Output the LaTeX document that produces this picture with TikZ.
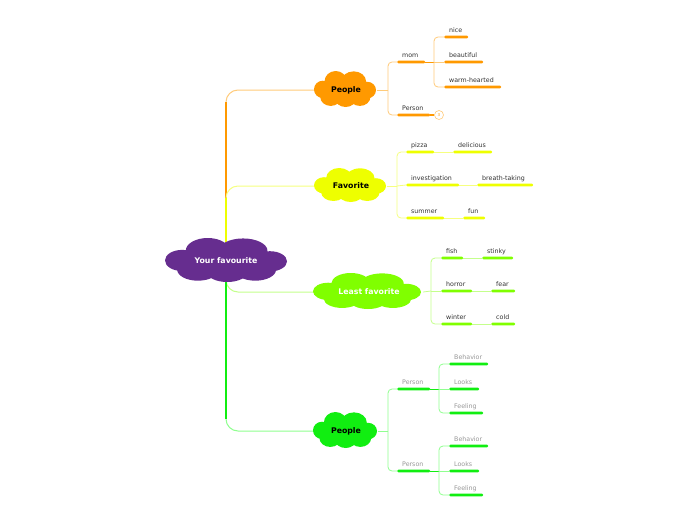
\documentclass[tikz,border=0pt]{standalone}
\usepackage{fontspec}
\setmainfont{DejaVu Sans}
\usetikzlibrary{backgrounds,calc}
\definecolor{cPurple}{HTML}{662D8F}
\definecolor{cOrange}{HTML}{FF9900}
\definecolor{cOrangeL}{HTML}{FFCB7A}
\definecolor{cYellow}{HTML}{EEFF00}
\definecolor{cYellowL}{HTML}{F6FF80}
\definecolor{cLime}{HTML}{80FF00}
\definecolor{cLimeL}{HTML}{C4FF8C}
\definecolor{cGreen}{HTML}{11EE11}
\definecolor{cGreenL}{HTML}{90FF90}
\definecolor{cText}{HTML}{333333}
\definecolor{cGray}{HTML}{999999}
\newcommand\leafnode[7]{%
  \node[leaf=#5, minimum width=#4pt, anchor=west] (#1) at (#2,#3) {};
  \node[lbl, text=#7, anchor=base west] (#1-t) at (#2+5,#3-5) {#6};}
% cloud blob: #1 position, #2 colour, #3 half width, #4 half height
\newcommand\cloudblob[4]{%
  \begin{scope}[shift={#1}, xscale=#3, yscale=#4]
  \fill[#2] (-0.30,-0.42) ellipse (0.36 and 0.58)
            (0.28,-0.42) ellipse (0.40 and 0.56)
            (-0.72,0.02) ellipse (0.28 and 0.48)
            (0.72,0.06) ellipse (0.28 and 0.46)
            (-0.46,0.44) ellipse (0.34 and 0.50)
            (0.02,0.52) ellipse (0.34 and 0.48)
            (0.48,0.44) ellipse (0.34 and 0.50)
            (0,0) ellipse (0.72 and 0.62);
  \end{scope}}
\begin{document}
\begin{tikzpicture}[x=1pt,y=-1pt,
  blob/.style={rectangle, draw=none, inner sep=0pt, font=\fontsize{7.8}{9}\selectfont\bfseries},
  leaf/.style={fill=#1, rounded corners=1.2pt, minimum height=2.6pt, inner sep=0pt},
  lbl/.style={font=\fontsize{6.3}{7}\selectfont, inner sep=0pt},
  thick trunk/.style={line width=2.2pt},
  branch/.style={line width=1pt, rounded corners=12pt},
  sub/.style={line width=0.8pt, rounded corners=4pt}]
\useasboundingbox (0,0) rectangle (696,520);

% cloud shapes
\cloudblob{(226,260)}{cPurple}{61}{22}
\cloudblob{(345,89)}{cOrange}{31}{18}
\cloudblob{(350,185)}{cYellow}{36}{17}
\cloudblob{(367,291)}{cLime}{54}{18}
\cloudblob{(345,430)}{cGreen}{32}{18}

% main topics
\node[blob, text=white, minimum width=122pt, minimum height=44pt] (root) at (226,261) {Your favourite};
\node[blob, text=black, minimum width=62pt, minimum height=36pt] (pO) at (346,90) {People};
\node[blob, text=black, minimum width=72pt, minimum height=34pt] (fav) at (351,186) {Favorite};
\node[blob, text=white, minimum width=108pt, minimum height=36pt] (least) at (369,292) {Least favorite};
\node[blob, text=black, minimum width=64pt, minimum height=36pt] (pG) at (346,431) {People};

% orange subtopics
\leafnode{mom}{397}{62}{28}{cOrange}{mom}{cText}
\leafnode{personO}{397}{115}{33}{cOrange}{Person}{cText}
\leafnode{nice}{444}{37}{24}{cOrange}{nice}{cText}
\leafnode{beautiful}{444}{62}{39}{cOrange}{beautiful}{cText}
\leafnode{warm}{444}{87}{57}{cOrange}{warm-hearted}{cText}
\node[circle, draw=cOrangeL, line width=0.6pt, inner sep=0pt, minimum size=9pt, font=\fontsize{4}{4}\selectfont, text=cOrange] (more) at (439,115) {3};

% yellow subtopics
\leafnode{pizza}{406}{152}{28}{cYellow}{pizza}{cText}
\leafnode{delicious}{453}{152}{39}{cYellow}{delicious}{cText}
\leafnode{invest}{406}{185}{53}{cYellow}{investigation}{cText}
\leafnode{breath}{477}{185}{56}{cYellow}{breath-taking}{cText}
\leafnode{summer}{406}{218}{38}{cYellow}{summer}{cText}
\leafnode{fun}{463}{218}{22}{cYellow}{fun}{cText}

% lime subtopics
\leafnode{fish}{441}{258}{22}{cLime}{fish}{cText}
\leafnode{stinky}{482}{258}{31}{cLime}{stinky}{cText}
\leafnode{horror}{441}{291}{31}{cLime}{horror}{cText}
\leafnode{fear}{491}{291}{24}{cLime}{fear}{cText}
\leafnode{winter}{441}{324}{31}{cLime}{winter}{cText}
\leafnode{cold}{491}{324}{24}{cLime}{cold}{cText}

% green subtopics
\leafnode{pers1}{397}{389}{33}{cGreen}{Person}{cGray}
\leafnode{beh1}{449}{364}{39}{cGreen}{Behavior}{cGray}
\leafnode{looks1}{449}{389}{30}{cGreen}{Looks}{cGray}
\leafnode{feel1}{449}{413}{34}{cGreen}{Feeling}{cGray}
\leafnode{pers2}{397}{471}{33}{cGreen}{Person}{cGray}
\leafnode{beh2}{449}{446}{39}{cGreen}{Behavior}{cGray}
\leafnode{looks2}{449}{471}{30}{cGreen}{Looks}{cGray}
\leafnode{feel2}{449}{495}{34}{cGreen}{Feeling}{cGray}

\coordinate (jo) at (388,90);
\coordinate (jm) at (434,62);
\coordinate (jy) at (397,186);
\coordinate (jl) at (431,291);
\coordinate (jg) at (388,431);
\coordinate (jp1) at (439,389);
\coordinate (jp2) at (439,471);

\begin{scope}[on background layer]
\fill[white] (0,0) rectangle (696,520);
% trunk
\draw[branch, cOrangeL] (root.center) |- (pO.west);
\draw[thick trunk, cOrange] (root.center) -- ([yshift=-12pt]root.center |- pO.west);
\draw[branch, cYellowL] (root.center) |- (fav.west);
\draw[thick trunk, cYellow] (root.center) -- ([yshift=-12pt]root.center |- fav.west);
\draw[branch, cLimeL] (root.center) |- (least.west);
\draw[branch, cGreenL] (root.center) |- (pG.west);
\draw[thick trunk, cGreen] (root.center) -- ([yshift=12pt]root.center |- pG.west);
% orange
\draw[sub, cOrangeL] (pO.east) -- (jo);
\draw[sub, cOrangeL] (jo) |- (mom.west);
\draw[sub, cOrangeL] (jo) |- (personO.west);
\draw[sub, cOrange] (mom.east) -- (jm);
\draw[sub, cOrangeL] (jm) |- (nice.west);
\draw[sub, cOrangeL] (jm) -- (beautiful.west);
\draw[sub, cOrangeL] (jm) |- (warm.west);
\draw[line width=1.4pt, cOrange] (personO.east) -- (more.west);
% yellow
\draw[sub, cYellowL] (fav.east) -- (jy);
\draw[sub, cYellowL] (jy) |- (pizza.west);
\draw[sub, cYellowL] (jy) -- (invest.west);
\draw[sub, cYellowL] (jy) |- (summer.west);
\draw[sub, cYellowL] (pizza.east) -- (delicious.west);
\draw[sub, cYellowL] (invest.east) -- (breath.west);
\draw[sub, cYellowL] (summer.east) -- (fun.west);
% lime
\draw[sub, cLimeL] (least.east) -- (jl);
\draw[sub, cLimeL] (jl) |- (fish.west);
\draw[sub, cLimeL] (jl) -- (horror.west);
\draw[sub, cLimeL] (jl) |- (winter.west);
\draw[sub, cLimeL] (fish.east) -- (stinky.west);
\draw[sub, cLimeL] (horror.east) -- (fear.west);
\draw[sub, cLimeL] (winter.east) -- (cold.west);
% green
\draw[sub, cGreenL] (pG.east) -- (jg);
\draw[sub, cGreenL] (jg) |- (pers1.west);
\draw[sub, cGreenL] (jg) |- (pers2.west);
\draw[sub, cGreen] (pers1.east) -- (jp1);
\draw[sub, cGreenL] (jp1) |- (beh1.west);
\draw[sub, cGreenL] (jp1) -- (looks1.west);
\draw[sub, cGreenL] (jp1) |- (feel1.west);
\draw[sub, cGreen] (pers2.east) -- (jp2);
\draw[sub, cGreenL] (jp2) |- (beh2.west);
\draw[sub, cGreenL] (jp2) -- (looks2.west);
\draw[sub, cGreenL] (jp2) |- (feel2.west);
\end{scope}
\end{tikzpicture}
\end{document}
